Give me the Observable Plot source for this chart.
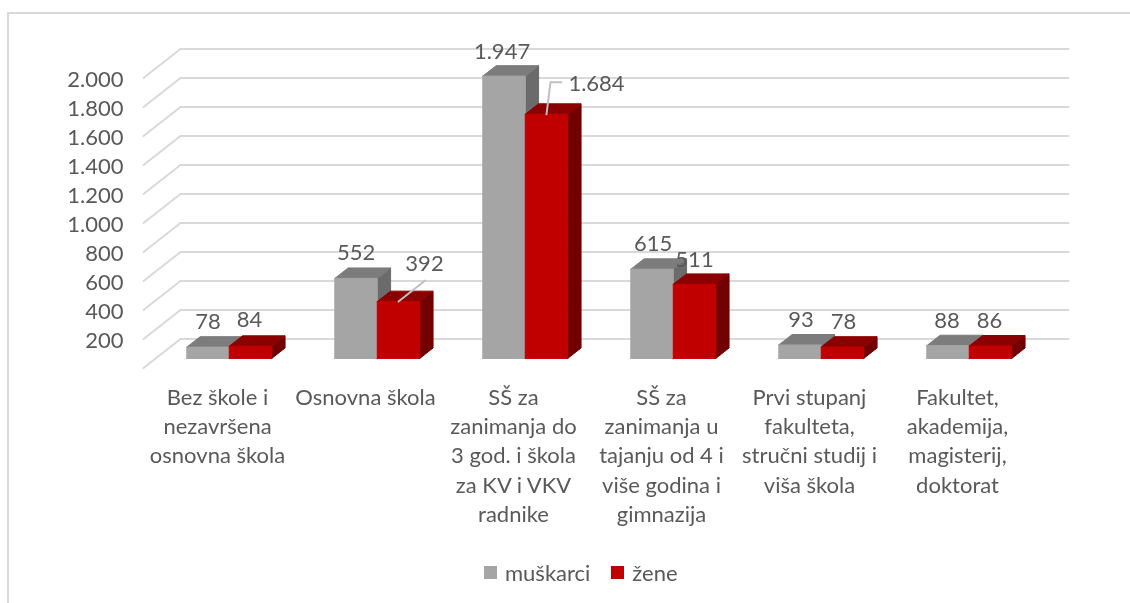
<!DOCTYPE html>
<html>
<head>
<meta charset="utf-8">
<script src="https://cdn.jsdelivr.net/npm/d3@7"></script>
<script src="https://cdn.jsdelivr.net/npm/@observablehq/plot@0.6"></script>
<style>
  html, body { margin: 0; padding: 0; background: #fff; }
  #page { position: relative; width: 1130px; height: 603px; overflow: hidden; background: #fff; font-family: Lato, sans-serif; }
  #frame { position: absolute; left: 7px; top: 12px; right: 0; bottom: 0; border-top: 2px solid #d9d9d9; border-left: 2px solid #d9d9d9; }
  #chart { position: absolute; left: 0; top: 0; filter: blur(0.45px); }
  #legend { position: absolute; left: 484px; top: 556px; filter: blur(0.45px); }
  #legend span { margin-right: 21px !important; }
  #legend span > svg { margin-right: 8px !important; }
</style>
</head>
<body>
<div id="page"><div id="frame"></div><div id="chart"></div><div id="legend"></div></div>
<script>
// ---- data ----
const categories = [
  "Bez škole i\nnezavršena\nosnovna škola",
  "Osnovna škola",
  "SŠ za\nzanimanja do\n3 god. i škola\nza KV i VKV\nradnike",
  "SŠ za\nzanimanja u\ntajanju od 4 i\nviše godina i\ngimnazija",
  "Prvi stupanj\nfakulteta,\nstručni studij i\nviša škola",
  "Fakultet,\nakademija,\nmagisterij,\ndoktorat"
];
const muskarci = [78, 552, 1947, 615, 93, 88];
const zene = [84, 392, 1684, 511, 78, 86];
const seriesNames = ["muškarci", "žene"];
const yTicks = [200, 400, 600, 800, 1000, 1200, 1400, 1600, 1800, 2000];

// ---- oblique projection, in scale units ----
const wallDx = 0.25;     // category units, per unit of depth
const wallDy = 200;      // value units, per unit of depth
const barZ0 = 0.33, barZ1 = 0.69;
const barStart = 0.21, barWidth = 0.287;
const P = (c, v, z) => ({x: c + z * wallDx, y: v + z * wallDy});

function faces(values, seriesIndex) {
  const front = [], top = [], side = [];
  values.forEach((v, i) => {
    const a = i + barStart + seriesIndex * barWidth, b = a + barWidth;
    const poly = (arr, pts) => pts.forEach(p => arr.push({...p, id: i, series: seriesNames[seriesIndex]}));
    poly(front, [P(a,0,barZ0), P(b,0,barZ0), P(b,v,barZ0), P(a,v,barZ0), P(a,0,barZ0)]);
    poly(top, [P(a,v,barZ0), P(b,v,barZ0), P(b,v,barZ1), P(a,v,barZ1), P(a,v,barZ0)]);
    poly(side, [P(b,0,barZ0), P(b,0,barZ1), P(b,v,barZ1), P(b,v,barZ0), P(b,0,barZ0)]);
  });
  return {front, top, side};
}
const gray = faces(muskarci, 0), red = faces(zene, 1);

const gridBack = [0, ...yTicks].flatMap(v => [P(0,v,1), P(6,v,1)].map(p => ({...p, id: v})));
const gridSide = [0, ...yTicks].flatMap(v => [P(0,v,0), P(0,v,1)].map(p => ({...p, id: v})));

// label offsets from the top-front centre of each bar, in pixels
const labels = [
  ...muskarci.map((v, i) => ({i, s: 0, v})),
  ...zene.map((v, i) => ({i, s: 1, v}))
].map(d => ({...d, ...P(d.i + barStart + (d.s + 0.5) * barWidth, d.v, barZ0)}));
const labelDx = [[0,0,-2,1,1,-1],[-1,26,50,0,1,-1]];
const labelDy = [[-25,-25,-24,-25,-25,-25],[-26,-38,-30,-24,-25,-25]];
const fmt = v => String(v).replace(/\B(?=(\d{3})+$)/g, ".");

const leaders = [
  [P(1 + barStart + 1.5 * barWidth, 392, barZ0), P(1 + barStart + 1.5 * barWidth + 0.18, 392 + 145, barZ0)],
  [P(2 + barStart + 1.5 * barWidth, 1684, barZ0), P(2 + barStart + 1.5 * barWidth + 0.027, 1684 + 221, barZ0), P(2 + barStart + 1.5 * barWidth + 0.10, 1684 + 221, barZ0)]
].flatMap((pts, id) => pts.map(p => ({...p, id})));

const INK = "#595959", GRID = "#d9d9d9", SIZE = 22;
const polygon = (data, opts) => Plot.line(data, {x: "x", y: "y", z: "id", strokeWidth: 1, ...opts});

const chart = Plot.plot({
  width: 1130, height: 545,
  marginLeft: 143, marginRight: 99, marginTop: 77.5, marginBottom: 177.5,
  style: {background: "transparent", fontFamily: "Lato, sans-serif", fontSize: SIZE + "px", color: INK},
  x: {domain: [0, 6], axis: null},
  y: {domain: [0, 2000], axis: null},
  color: {type: "ordinal", domain: seriesNames, range: ["#a5a5a5", "#c00000"]},
  marks: [
    Plot.line(gridBack, {x: "x", y: "y", z: "id", stroke: GRID, strokeWidth: 2}),
    Plot.line(gridSide, {x: "x", y: "y", z: "id", stroke: GRID, strokeWidth: 2}),
    Plot.axisY({ticks: yTicks, tickSize: 0, tickPadding: 20, tickFormat: fmt, label: null, fill: INK, fontSize: SIZE, dy: 2}),
    polygon(gray.side, {fill: "#6b6b6b", stroke: "#6b6b6b"}),
    polygon(gray.top, {fill: "#7c7c7c", stroke: "#7c7c7c"}),
    polygon(gray.front, {fill: "series", stroke: "#a5a5a5"}),
    polygon(red.side, {fill: "#730000", stroke: "#730000"}),
    polygon(red.top, {fill: "#8b0000", stroke: "#8b0000"}),
    polygon(red.front, {fill: "series", stroke: "#c00000"}),
    Plot.line(leaders, {x: "x", y: "y", z: "id", stroke: "#bfbfbf", strokeWidth: 2}),
    Plot.text(labels, {
      x: "x", y: "y", text: d => fmt(d.v), fill: INK, fontSize: SIZE,
      render(index, scales, values, dims, ctx, next) {
        const g = next(index, scales, values, dims, ctx);
        d3.select(g).selectAll("text").each(function(_, k) {
          const d = labels[index[k]];
          const t = this.getAttribute("transform") || "";
          this.setAttribute("transform", `${t} translate(${labelDx[d.s][d.i]},${labelDy[d.s][d.i]})`);
        });
        return g;
      }
    }),
    Plot.text(categories, {
      x: (d, i) => i + 0.5, y: () => 0, text: d => d,
      dy: 16, lineAnchor: "top", lineHeight: 29.3 / SIZE, textAnchor: "middle",
      fill: INK, fontSize: SIZE
    })
  ]
});
document.getElementById("chart").append(chart);

const legend = chart.legend("color", {swatchSize: 13, swatchWidth: 13, swatchHeight: 13, style: {fontFamily: "Lato, sans-serif", fontSize: SIZE + "px", color: INK, margin: 0}});
document.getElementById("legend").append(legend);
</script>
</body>
</html>
